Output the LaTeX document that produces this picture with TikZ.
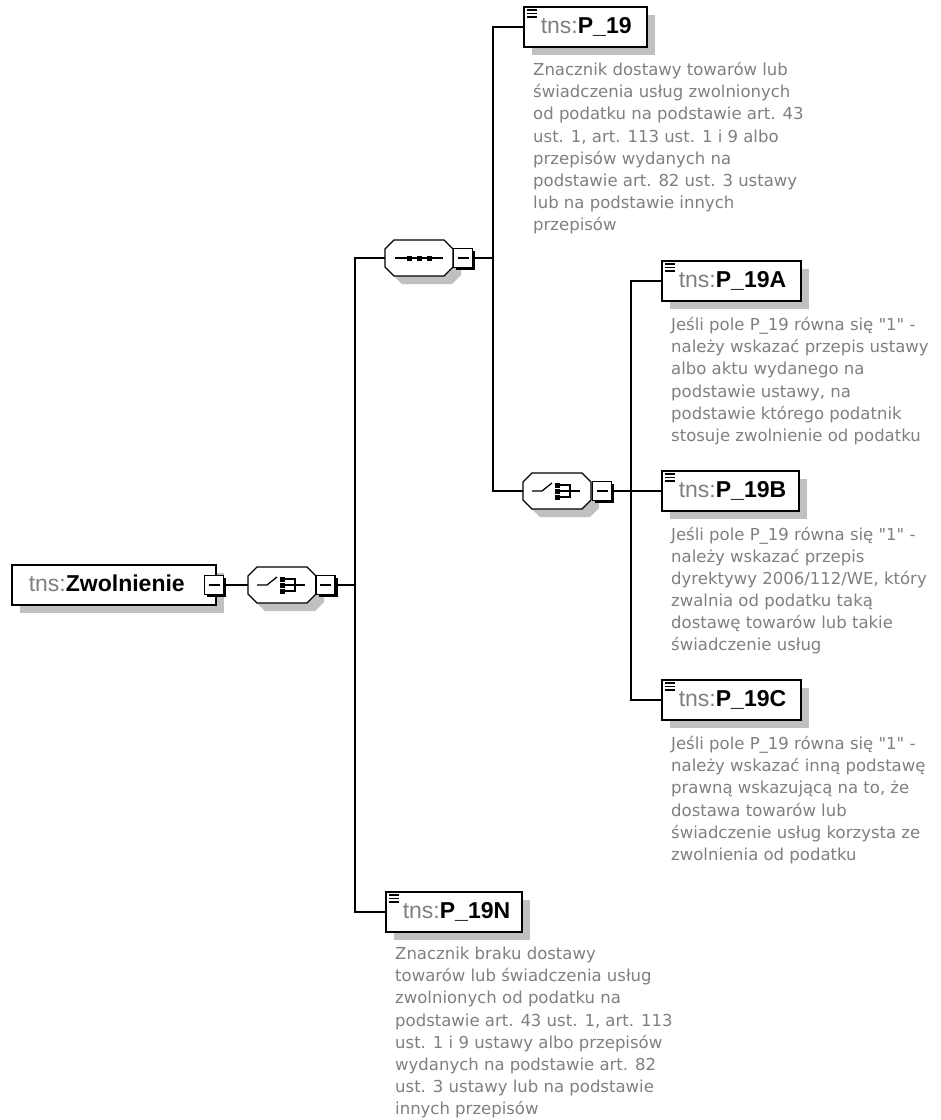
\documentclass[tikz,border=0pt]{standalone}
\usepackage{fontspec}
\setmainfont{DejaVu Sans}[Ligatures=TeXOff]
\newfontfamily\labfont{Liberation Sans}
\usetikzlibrary{shadows}
\definecolor{shd}{RGB}{192,192,192}
\definecolor{txtg}{RGB}{128,128,128}
\newcommand\elab[2]{\makebox[#1][l]{\color{txtg}tns:\color{black}\bfseries #2}}
\newcommand\drawoct[2]{%
\begin{scope}[shift={(#1,#2)}]
 \fill[shd] (-17,-10) -- (33,-10) -- (42,-1) -- (42,17) -- (33,26) -- (-17,26) -- (-26,17) -- (-26,-1) -- cycle;
 \draw[line width=1.3pt, fill=white] (-25,-18) -- (25,-18) -- (34,-9) -- (34,9) -- (25,18) -- (-25,18) -- (-34,9) -- (-34,-9) -- cycle;
\end{scope}}
\newcommand\seqicon[2]{%
\begin{scope}[shift={(#1,#2)}]
 \draw[line width=1.3pt] (-24,0) -- (24,0);
 \fill (-12.5,-2.5) rectangle (-7.5,2.5);
 \fill (-2.5,-2.5) rectangle (2.5,2.5);
 \fill (7.5,-2.5) rectangle (12.5,2.5);
\end{scope}}
\newcommand\choiceicon[2]{%
\begin{scope}[shift={(#1,#2)}]
 \draw[line width=1.3pt] (-25,0) -- (-15,0) -- (-5,-8);
 \fill (-2,-8.5) rectangle (3,-3.5);
 \fill (-2,-2.5) rectangle (3,2.5);
 \fill (-2,3.5) rectangle (3,8.5);
 \draw[line width=1.3pt] (3,-6) -- (13,-6) -- (13,6) -- (3,6);
 \draw[line width=1.3pt] (3,0) -- (23,0);
\end{scope}}
\tikzset{
 conn/.style={line width=1.3pt, draw=black},
 elem/.style={draw, line width=1.6pt, fill=white, rectangle, inner sep=0pt,
   minimum height=40pt, anchor=west,
   drop shadow={shadow xshift=8pt, shadow yshift=-8pt, fill=shd, opacity=1},
   font=\labfont\fontsize{23}{26}\selectfont, text height=16pt, text depth=4pt},
 icon/.style={path picture={\foreach \d in {3,6.5,10}{\draw[line width=1.2pt] ([shift={(3pt,-\d pt)}]path picture bounding box.north west) -- ++(10pt,0pt);}}},
 comp/.style={rectangle, minimum width=68pt, minimum height=36pt, inner sep=0pt},
 minus/.style={draw, line width=1.2pt, fill=white, minimum size=19pt, inner sep=0pt,
   drop shadow={shadow xshift=2.5pt, shadow yshift=-2.5pt, fill=black, opacity=1},
   path picture={\draw[line width=1.2pt] ([xshift=4pt]path picture bounding box.west) -- ([xshift=-4pt]path picture bounding box.east);}},
 desc/.style={anchor=north west, inner sep=0pt, align=left, text=txtg,
   font=\fontsize{16.5}{22.1}\selectfont}
}
\begin{document}
\begin{tikzpicture}[x=1pt,y=-1pt]
\fill[white] (0,0) rectangle (941,1120);
\useasboundingbox (0,0) rectangle (941,1120);

% root
\node[elem, minimum width=204pt] (root) at (11,585) {\elab{170pt}{Zwolnienie}};
\node[minus] (m0) at (214,585) {};

% choice 1
\drawoct{282}{585}
\choiceicon{282}{585}
\node[comp] (ch1) at (282,585) {};
\node[minus] (m1) at (325.5,585) {};

% sequence
\drawoct{419}{258}
\seqicon{419}{258}
\node[comp] (seq) at (419,258) {};
\node[minus] (m2) at (463,258) {};

% choice 2
\drawoct{557}{491}
\choiceicon{557}{491}
\node[comp] (ch2) at (557,491) {};
\node[minus] (m3) at (602,491) {};

% elements
\node[elem, icon, minimum width=123pt] (p19) at (523,27) {\elab{89pt}{P\_19}};
\node[elem, icon, minimum width=139pt] (p19a) at (661,281) {\elab{105pt}{P\_19A}};
\node[elem, icon, minimum width=137pt] (p19b) at (661,491) {\elab{103pt}{P\_19B}};
\node[elem, icon, minimum width=139pt] (p19c) at (661,700) {\elab{105pt}{P\_19C}};
\node[elem, icon, minimum width=136pt] (p19n) at (385,912) {\elab{102pt}{P\_19N}};

% bus coordinates
\coordinate (b1) at (355,585);
\coordinate (b2) at (493,258);
\coordinate (b3) at (631,491);

% connectors
\draw[conn] (m0.east) -- (ch1.west);
\draw[conn] (m1.east) -- (b1);
\draw[conn] (seq.west) -| (b1) |- (p19n.west);
\draw[conn] (m2.east) -- (b2);
\draw[conn] (p19.west) -| (b2) |- (ch2.west);
\draw[conn] (m3.east) -- (p19b.west);
\draw[conn] (p19a.west) -| (b3) |- (p19c.west);

% descriptions
\node[desc] (d19) at (533,61.5) {\rule{0pt}{14pt}Znacznik dostawy towarów lub\\
świadczenia usług zwolnionych\\
od podatku na podstawie art. 43\\
ust. 1, art. 113 ust. 1 i 9 albo\\
przepisów wydanych na\\
podstawie art. 82 ust. 3 ustawy\\
lub na podstawie innych\\
przepisów};
\node[desc] (d19a) at (671,316.5) {\rule{0pt}{14pt}Jeśli pole P\_19 równa się "1" -\\
należy wskazać przepis ustawy\\
albo aktu wydanego na\\
podstawie ustawy, na\\
podstawie którego podatnik\\
stosuje zwolnienie od podatku};
\node[desc] (d19b) at (671,526) {\rule{0pt}{14pt}Jeśli pole P\_19 równa się "1" -\\
należy wskazać przepis\\
dyrektywy 2006/112/WE, który\\
zwalnia od podatku taką\\
dostawę towarów lub takie\\
świadczenie usług};
\node[desc] (d19c) at (671,735.5) {\rule{0pt}{14pt}Jeśli pole P\_19 równa się "1" -\\
należy wskazać inną podstawę\\
prawną wskazującą na to, że\\
dostawa towarów lub\\
świadczenie usług korzysta ze\\
zwolnienia od podatku};
\node[desc] (d19n) at (395,945.5) {\rule{0pt}{14pt}Znacznik braku dostawy\\
towarów lub świadczenia usług\\
zwolnionych od podatku na\\
podstawie art. 43 ust. 1, art. 113\\
ust. 1 i 9 ustawy albo przepisów\\
wydanych na podstawie art. 82\\
ust. 3 ustawy lub na podstawie\\
innych przepisów};
\end{tikzpicture}
\end{document}
